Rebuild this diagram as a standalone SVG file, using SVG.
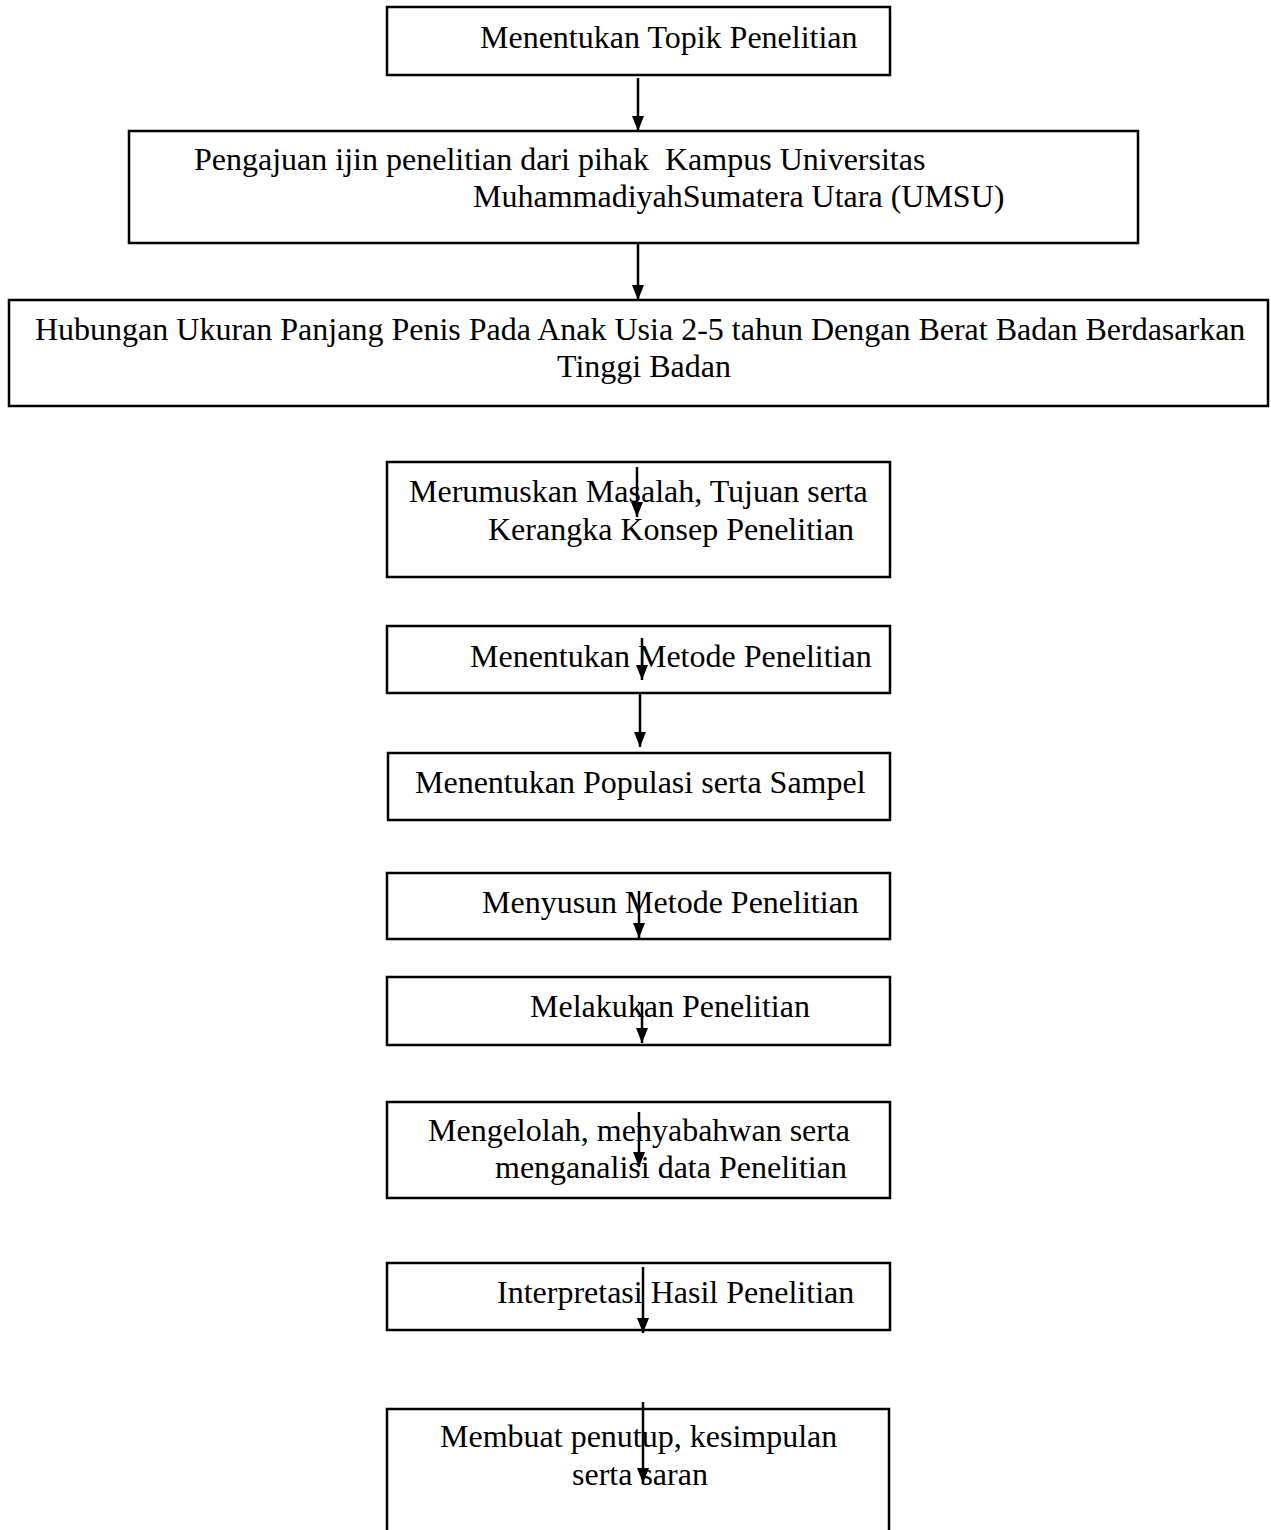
<svg xmlns="http://www.w3.org/2000/svg" width="1271" height="1530" viewBox="0 0 1271 1530">
<style>
.box{fill:#fff;stroke:#000;stroke-width:2.5}
.t{font-family:"Liberation Serif","Times New Roman",serif;font-size:32px;fill:#000}
.arr{stroke:#000;stroke-width:2.5;fill:none;marker-end:url(#ah)}
</style>
<defs>
<marker id="ah" markerUnits="userSpaceOnUse" markerWidth="15" markerHeight="12" refX="15" refY="6" orient="auto">
<path d="M0,0 L15,6 L0,12 z" fill="#000"/>
</marker>
</defs>
<rect width="1271" height="1530" fill="#fff"/>
<g id="n1"><rect class="box" x="387" y="7" width="503" height="68"/><text class="t" x="480" y="48">Menentukan Topik Penelitian</text></g>
<g id="n2"><rect class="box" x="129" y="131" width="1009" height="112"/><text class="t" x="194" y="170" xml:space="preserve">Pengajuan ijin penelitian dari pihak  Kampus Universitas</text><text class="t" x="473" y="207">MuhammadiyahSumatera Utara (UMSU)</text></g>
<g id="n3"><rect class="box" x="9" y="300" width="1259" height="106"/><text class="t" x="35" y="340">Hubungan Ukuran Panjang Penis Pada Anak Usia 2-5 tahun Dengan Berat Badan Berdasarkan</text><text class="t" x="557" y="377">Tinggi Badan</text></g>
<g id="n4"><rect class="box" x="387" y="462" width="503" height="115"/><text class="t" x="409" y="502">Merumuskan Masalah, Tujuan serta</text><text class="t" x="488" y="540">Kerangka Konsep Penelitian</text></g>
<g id="n5"><rect class="box" x="387" y="626" width="503" height="67"/><text class="t" x="470" y="667">Menentukan Metode Penelitian</text></g>
<g id="n6"><rect class="box" x="388" y="753" width="502" height="67"/><text class="t" x="415" y="793">Menentukan Populasi serta Sampel</text></g>
<g id="n7"><rect class="box" x="387" y="873" width="503" height="66"/><text class="t" x="482" y="913">Menyusun Metode Penelitian</text></g>
<g id="n8"><rect class="box" x="387" y="977" width="503" height="68"/><text class="t" x="530" y="1017">Melakukan Penelitian</text></g>
<g id="n9"><rect class="box" x="387" y="1102" width="503" height="96"/><text class="t" x="428" y="1141">Mengelolah, menyabahwan serta</text><text class="t" x="495" y="1178">menganalisi data Penelitian</text></g>
<g id="n10"><rect class="box" x="387" y="1263" width="503" height="67"/><text class="t" x="497" y="1303">Interpretasi Hasil Penelitian</text></g>
<g id="n11"><rect class="box" x="387" y="1409" width="502" height="140"/><text class="t" x="440" y="1447">Membuat penutup, kesimpulan</text><text class="t" x="572" y="1485">serta saran</text></g>
<g id="connectors">
<line class="arr" x1="638" y1="78" x2="638" y2="131"/>
<line class="arr" x1="638" y1="243" x2="638" y2="300"/>
<line class="arr" x1="637" y1="467" x2="637" y2="517"/>
<line class="arr" x1="642" y1="638" x2="642" y2="680"/>
<line class="arr" x1="640" y1="694" x2="640" y2="747"/>
<line class="arr" x1="639" y1="891" x2="639" y2="938"/>
<line class="arr" x1="642" y1="1002" x2="642" y2="1043"/>
<line class="arr" x1="639" y1="1112" x2="639" y2="1167"/>
<line class="arr" x1="643" y1="1267" x2="643" y2="1333"/>
<line class="arr" x1="643" y1="1402" x2="643" y2="1483"/>
</g>
</svg>
